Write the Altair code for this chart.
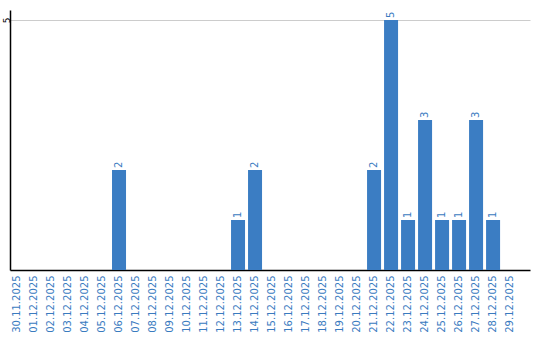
import altair as alt
import pandas as pd

dates = ["30.11.2025", "01.12.2025", "02.12.2025", "03.12.2025", "04.12.2025",
         "05.12.2025", "06.12.2025", "07.12.2025", "08.12.2025", "09.12.2025",
         "10.12.2025", "11.12.2025", "12.12.2025", "13.12.2025", "14.12.2025",
         "15.12.2025", "16.12.2025", "17.12.2025", "18.12.2025", "19.12.2025",
         "20.12.2025", "21.12.2025", "22.12.2025", "23.12.2025", "24.12.2025",
         "25.12.2025", "26.12.2025", "27.12.2025", "28.12.2025", "29.12.2025"]
counts = [0, 0, 0, 0, 0, 0, 2, 0, 0, 0,
          0, 0, 0, 1, 2, 0, 0, 0, 0, 0,
          0, 2, 5, 1, 3, 1, 1, 3, 1, 0]
y_ticks = [5]

df = pd.DataFrame({"date": dates, "count": counts})
df["label"] = df["count"].apply(lambda v: str(v) if v > 0 else "")

BLUE = "#3b7dc3"
TEXT_BLUE = "#3a7bbf"
FONT = "DejaVu Sans"

x = alt.X("date:N", sort=dates,
          scale=alt.Scale(paddingInner=0.176, paddingOuter=0.38, align=0),
          axis=alt.Axis(title=None, labelAngle=270, labelAlign="right",
                        labelBaseline="middle", labelColor=TEXT_BLUE,
                        labelFont=FONT, labelFontSize=10, labelPadding=5,
                        ticks=False, domainColor="#000000", domainWidth=1.5,
                        grid=False, labelOverlap=False))
y = alt.Y("count:Q", scale=alt.Scale(domain=[0, 5.2], nice=False),
          axis=alt.Axis(title=None, values=y_ticks, ticks=False,
                        labelAngle=270, labelAlign="center",
                        labelBaseline="middle", labelPadding=4,
                        labelFont=FONT, labelFontSize=9, labelColor="#000000",
                        domainColor="#000000", domainWidth=1.5,
                        grid=True, gridColor="#cccccc", gridWidth=1))

bars = alt.Chart(df).mark_bar(color=BLUE).encode(x=x, y=y)
text = alt.Chart(df).mark_text(angle=270, align="left", baseline="middle",
                               dx=2, font=FONT, fontSize=10,
                               color=TEXT_BLUE).encode(
    x=alt.X("date:N", sort=dates), y=alt.Y("count:Q"), text="label:N")

chart = (bars + text).properties(
    width=520, height=260,
    autosize=alt.AutoSizeParams(type="none"),
    padding={"left": 10, "top": 10, "right": 10, "bottom": 70},
    background="white",
).configure_view(stroke=None)

chart.save("out.html", embed_options={"renderer": "svg", "actions": False})
